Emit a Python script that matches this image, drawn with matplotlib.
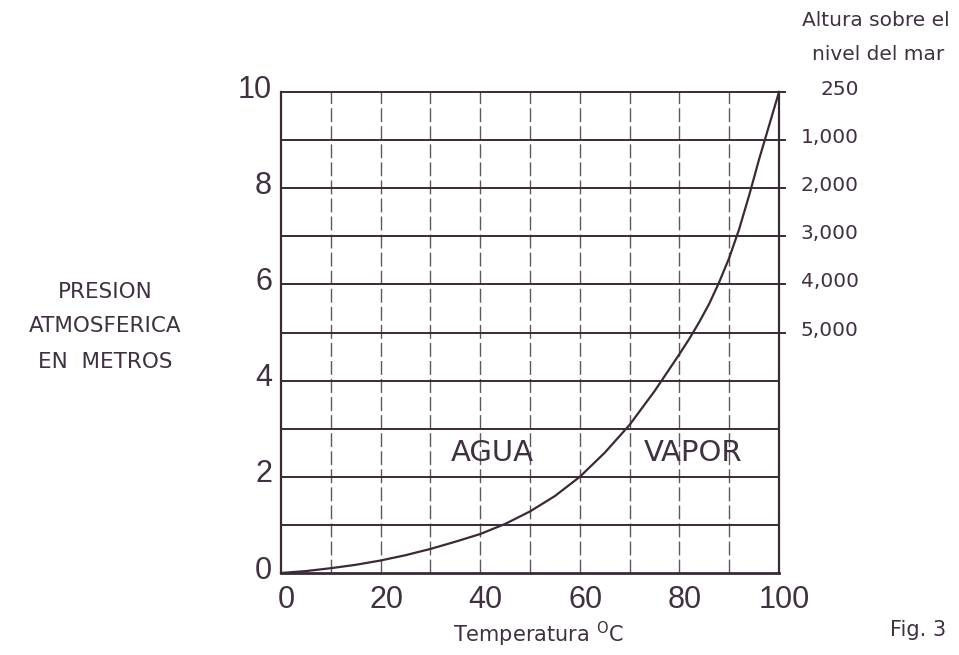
import matplotlib
matplotlib.use("Agg")
import matplotlib.pyplot as plt

# ---- data ----
temperatura = [0, 5, 10, 15, 20, 25, 30, 35, 40, 45, 50, 55, 60, 65, 70, 75, 80,
               82, 84, 86, 88, 90, 92, 94, 96, 98, 100]
presion = [0, 0.04, 0.1, 0.17, 0.26, 0.37, 0.5, 0.65, 0.81, 1.02, 1.28, 1.6, 2.0,
           2.5, 3.08, 3.78, 4.55, 4.87, 5.22, 5.6, 6.05, 6.55, 7.15, 7.85, 8.6, 9.3, 10.0]
x_ticks = [0, 20, 40, 60, 80, 100]
y_ticks = [0, 2, 4, 6, 8, 10]
h_lines = [1, 2, 3, 4, 5, 6, 7, 8, 9, 10]
v_lines = [10, 20, 30, 40, 50, 60, 70, 80, 90]
alt_levels = [10, 9, 8, 7, 6, 5]
alt_labels = ["250", "1,000", "2,000", "3,000", "4,000", "5,000"]

INK = "#3a2a36"
TXT = "#3f3140"
plt.rcParams['font.family'] = ['DejaVu Sans']
NUMFONT = ['Liberation Sans', 'DejaVu Sans']

fig = plt.figure(figsize=(9.59, 6.55), dpi=100)
fig.patch.set_facecolor("white")
ax = fig.add_axes([281/959, (655-573)/655, (779-281)/959, (573-92)/655])
ax.set_xlim(0, 100)
ax.set_ylim(0, 10)
for s in ax.spines.values():
    s.set_visible(False)
ax.set_xticks([])
ax.set_yticks([])

# vertical dashed grid
for v in v_lines:
    ax.plot([v, v], [0, 10], color=INK, lw=1.0, ls=(0, (10, 3)), alpha=0.8)
# horizontal lines
for h in h_lines:
    xend = 101.5 if h in alt_levels else 100
    ax.plot([0, xend], [h, h], color=INK, lw=1.4, clip_on=False, solid_capstyle='butt')
# frame
ax.plot([0, 100], [0, 0], color=INK, lw=2.0, clip_on=False)
ax.plot([0, 0], [0, 10], color=INK, lw=1.6, clip_on=False)
ax.plot([100, 100], [0, 10], color=INK, lw=1.6, clip_on=False)

# curve
ax.plot(temperatura, presion, color=INK, lw=1.6, clip_on=False, solid_joinstyle='round')

# tick labels
for t in x_ticks:
    ax.text(t + 1.1, -0.25, str(t), ha='center', va='top', fontsize=22,
            color=TXT, family=NUMFONT)
for t in y_ticks:
    ax.text(-1.8, t + 0.05, str(t), ha='right', va='center', fontsize=22,
            color=TXT, family=NUMFONT)

# altitude labels
for lv, lab in zip(alt_levels, alt_labels):
    ax.text(116, lv + 0.05, lab, ha='right', va='center', fontsize=14.5, color=TXT)
fig.text(950/959, 1 - 21/655, "Altura sobre el", ha='right', va='center', fontsize=14.5, color=TXT)
fig.text(944/959, 1 - 54/655, "nivel del mar", ha='right', va='center', fontsize=14.5, color=TXT)

# region labels
ax.text(42.4, 2.5, "AGUA", ha='center', va='center', fontsize=21, color=TXT)
ax.text(82.7, 2.5, "VAPOR", ha='center', va='center', fontsize=21, color=TXT)

# axis labels
fig.text(105/959, 1 - 292/655, "PRESION", ha='center', va='center', fontsize=15.5, color=TXT)
fig.text(105/959, 1 - 326/655, "ATMOSFERICA", ha='center', va='center', fontsize=15.5, color=TXT)
fig.text(105/959, 1 - 362/655, "EN  METROS", ha='center', va='center', fontsize=15.5, color=TXT)
fig.text(538/959, 1 - 634/655, r"Temperatura $^{\mathregular{O}}$C", ha='center', va='center',
         fontsize=15, color=TXT)
fig.text(946/959, 1 - 630/655, "Fig. 3", ha='right', va='center', fontsize=15, color=TXT)

fig.savefig("out.png", dpi=100, facecolor="white")
